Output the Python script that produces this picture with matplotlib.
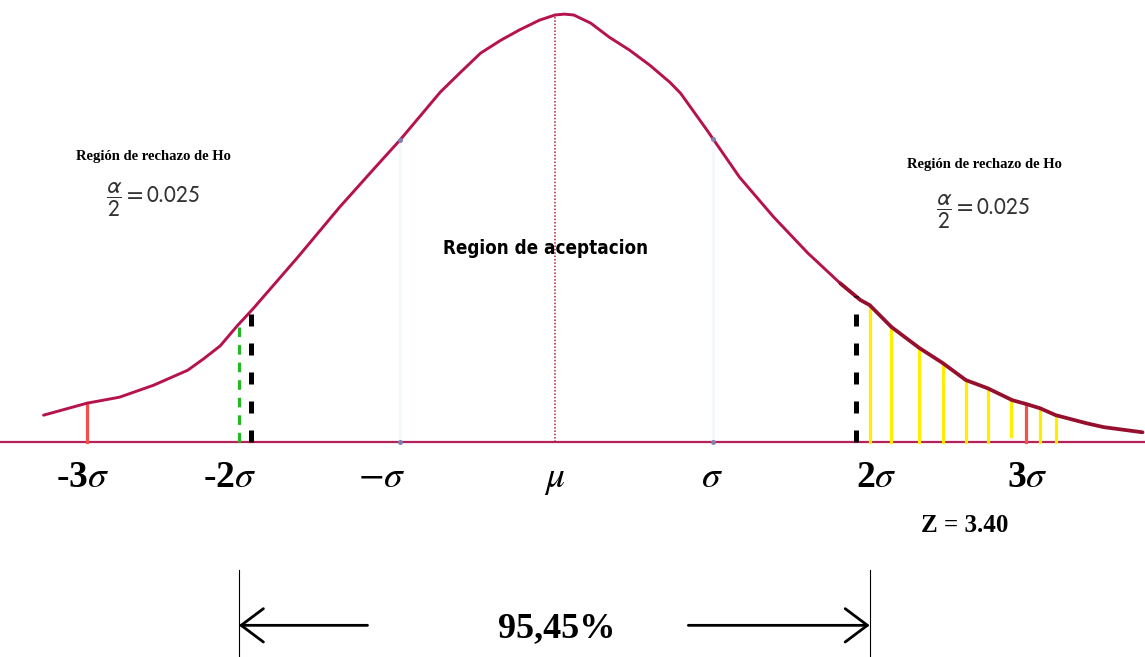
import numpy as np
import matplotlib
matplotlib.use('Agg')
import matplotlib.pyplot as plt

plt.rcParams['mathtext.fontset'] = 'stix'

# curva (x en sigmas, altura relativa al pico)
curve_x = [-3.30, -3.02, -2.81, -2.59, -2.37, -2.27, -2.16, -2.05, -1.95, -1.66,
           -1.39, -1.17, -1.00, -0.74, -0.61, -0.48, -0.35, -0.23, -0.10,
           0.00, 0.06, 0.12, 0.23, 0.35, 0.48, 0.61, 0.74, 0.81, 0.98,
           1.19, 1.41, 1.63, 1.84, 1.97, 2.03, 2.17, 2.35, 2.50, 2.65,
           2.79, 2.95, 3.04, 3.13, 3.23, 3.43, 3.54, 3.79]
curve_y = [0.063, 0.091, 0.105, 0.133, 0.168, 0.194, 0.225, 0.272, 0.311, 0.432,
           0.549, 0.638, 0.706, 0.818, 0.864, 0.909, 0.939, 0.963, 0.986,
           0.998, 1.000, 0.998, 0.979, 0.946, 0.916, 0.881, 0.841, 0.815, 0.729,
           0.619, 0.526, 0.442, 0.371, 0.332, 0.320, 0.269, 0.220, 0.185, 0.145,
           0.126, 0.098, 0.089, 0.079, 0.063, 0.044, 0.035, 0.023]

# lineas verticales
red_x = [-3.02, 3.04]
green_x = [-2.04]
black_x = [-1.96, 1.94]
yellow_x = [2.03, 2.17, 2.35, 2.50, 2.65, 2.79, 2.94, 3.13, 3.23]
yellow_bottom = [0, 0, 0, 0, 0, 0, 0.014, 0, 0]
faint_x = [-1.00, 1.02]

# etiquetas del eje
tick_pos = [-3.05, -2.10, -1.12, 0.0, 1.01, 2.07, 3.05]
tick_lab = [r'-3$\sigma$', r'-2$\sigma$', r'$-\sigma$', r'$\mu$', r'$\sigma$',
            r'2$\sigma$', r'3$\sigma$']

cx = np.array(curve_x)
cy = np.array(curve_y)

fig = plt.figure(figsize=(11.45, 6.57), dpi=100)
ax = fig.add_axes([0, 0, 1, 1])
ax.set_xlim(-3.581, 3.806)
ax.set_ylim(-0.502, 1.033)
ax.axis('off')

# lineas blancas casi invisibles
for x in faint_x:
    ax.plot([x, x], [0, np.interp(x, cx, cy)], color='#f5f8fa', lw=2.5, zorder=1)

# linea base
ax.axhline(0, color='#b3235a', lw=1.6, zorder=2)

# curva
left = cx <= 1.97
ax.plot(cx[left], cy[left], color='#b5124e', lw=2.1, zorder=4,
        solid_capstyle='round', solid_joinstyle='round')
right = cx >= 1.84
ax.plot(cx[right], cy[right], color='#96102e', lw=2.7, zorder=4,
        solid_capstyle='round', solid_joinstyle='round')

# media
ax.plot([0, 0], [0, 1.0], color='#b02030', lw=1.1, ls=(0, (1, 1.2)), zorder=3)

for x in faint_x:
    ax.plot(x, np.interp(x, cx, cy), marker='o', ms=2.5, color='#8080b0', zorder=5)
    ax.plot(x, 0, marker='o', ms=2.5, color='#8080b0', zorder=5)

for x in red_x:
    ax.plot([x, x], [0, np.interp(x, cx, cy)], color='#f0524c', lw=2.3, zorder=3)
for x in green_x:
    ax.plot([x, x], [0, np.interp(x, cx, cy)], color='#25b825', lw=2.3,
            dashes=(3, 2.5), zorder=3)
for x in black_x:
    ax.plot([x, x], [0, np.interp(x, cx, cy)], color='black', lw=3.6,
            dashes=(2.4, 3.4), solid_capstyle='butt', zorder=5)
for x, b in zip(yellow_x, yellow_bottom):
    ax.plot([x, x], [b, np.interp(x, cx, cy)], color='#ffee00', lw=2.3, zorder=3)

# etiquetas sigma
for x, lab in zip(tick_pos, tick_lab):
    ax.text(x, -0.105, lab, ha='center', va='baseline', fontsize=27,
            family='Liberation Serif', weight='bold', math_fontfamily='stix')

# textos
ax.text(-2.59, 0.659, 'Región de rechazo de Ho', ha='center', va='baseline',
        fontsize=10.5, family='Liberation Serif', weight='bold')
ax.text(2.77, 0.640, 'Región de rechazo de Ho', ha='center', va='baseline',
        fontsize=10.5, family='Liberation Serif', weight='bold')
ax.text(-2.90, 0.565, r'$\dfrac{\alpha}{2} = 0.025$', ha='left', va='center',
        fontsize=17, math_fontfamily='stixsans', color='#333333')
ax.text(2.46, 0.537, r'$\dfrac{\alpha}{2} = 0.025$', ha='left', va='center',
        fontsize=17, math_fontfamily='stixsans', color='#333333')
ax.text(-0.06, 0.439, 'Region de aceptacion', ha='center', va='baseline',
        fontsize=13.5, family='DejaVu Sans', stretch='condensed', weight='bold')
ax.text(2.64, -0.210, 'Z = 3.40', ha='center', va='baseline',
        fontsize=18, family='Liberation Serif', weight='bold')

# flechas 95,45%
for x in [-2.04, 2.03]:
    ax.plot([x, x], [-0.299, -0.502], color='black', lw=0.8)
ax.annotate('', xy=(-2.04, -0.428), xytext=(-1.21, -0.428),
            arrowprops=dict(arrowstyle='->,head_length=0.8,head_width=0.6',
                            lw=2, color='black', mutation_scale=20,
                            shrinkA=0, shrinkB=0))
ax.annotate('', xy=(2.03, -0.428), xytext=(0.86, -0.428),
            arrowprops=dict(arrowstyle='->,head_length=0.8,head_width=0.6',
                            lw=2, color='black', mutation_scale=20,
                            shrinkA=0, shrinkB=0))
ax.text(0.01, -0.435, '95,45%', ha='center', va='center', fontsize=26,
        family='Liberation Serif', weight='bold')

fig.savefig('out.png', dpi=100)
